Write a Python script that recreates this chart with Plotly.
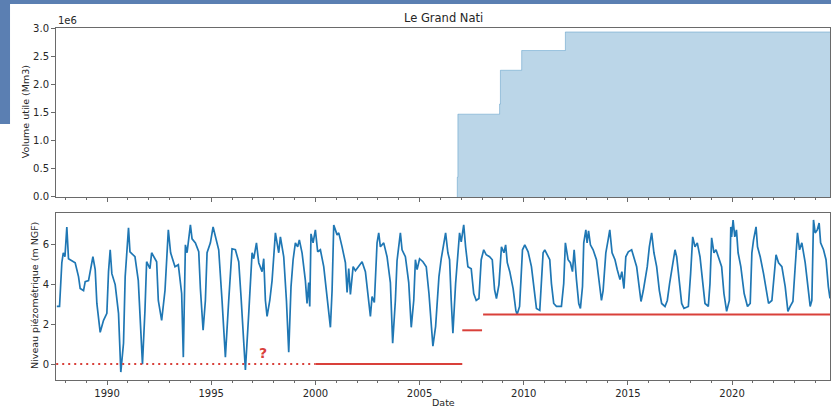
import pandas as pd
import plotly.graph_objects as go

# ---------------- data ----------------
piezo_year = [
    1987.59, 1987.72, 1987.83, 1987.90, 1987.98, 1988.07, 1988.15, 1988.31, 1988.47, 1988.63,
    1988.71, 1988.87, 1988.95, 1989.11, 1989.19, 1989.32, 1989.43, 1989.51, 1989.67, 1989.83,
    1989.99, 1990.07, 1990.15, 1990.23, 1990.39, 1990.55, 1990.66, 1990.79, 1990.87, 1991.03,
    1991.10, 1991.34, 1991.50, 1991.58, 1991.70, 1991.82, 1991.90, 1992.06, 1992.14, 1992.30,
    1992.38, 1992.46, 1992.62, 1992.78, 1992.94, 1993.05, 1993.26, 1993.42, 1993.58, 1993.66,
    1993.76, 1993.84, 1994.00, 1994.08, 1994.24, 1994.40, 1994.48, 1994.61, 1994.72, 1994.80,
    1994.96, 1995.09, 1995.20, 1995.36, 1995.52, 1995.68, 1995.84, 1996.00, 1996.16, 1996.32,
    1996.43, 1996.64, 1996.80, 1996.96, 1997.04, 1997.17, 1997.28, 1997.44, 1997.52, 1997.60,
    1997.68, 1997.81, 1997.92, 1998.08, 1998.24, 1998.32, 1998.48, 1998.61, 1998.72, 1998.83,
    1998.93, 1999.04, 1999.15, 1999.23, 1999.36, 1999.52, 1999.60, 1999.68, 1999.73, 1999.79,
    1999.89, 2000.00, 2000.11, 2000.24, 2000.40, 2000.56, 2000.72, 2000.80, 2000.88, 2001.04,
    2001.12, 2001.28, 2001.44, 2001.52, 2001.60, 2001.68, 2001.81, 2001.92, 2002.08, 2002.24,
    2002.40, 2002.51, 2002.64, 2002.72, 2002.83, 2002.96, 2003.04, 2003.12, 2003.28, 2003.44,
    2003.60, 2003.71, 2003.84, 2003.92, 2004.08, 2004.16, 2004.32, 2004.48, 2004.60, 2004.72,
    2004.80, 2004.88, 2005.00, 2005.16, 2005.32, 2005.45, 2005.56, 2005.64, 2005.77, 2005.93,
    2006.04, 2006.15, 2006.25, 2006.36, 2006.44, 2006.52, 2006.60, 2006.73, 2006.80, 2006.92,
    2007.00, 2007.12, 2007.21, 2007.32, 2007.48, 2007.60, 2007.72, 2007.85, 2007.96, 2008.08,
    2008.20, 2008.36, 2008.49, 2008.60, 2008.69, 2008.81, 2008.93, 2009.05, 2009.13, 2009.21,
    2009.33, 2009.49, 2009.62, 2009.68, 2009.80, 2009.94, 2010.05, 2010.21, 2010.37, 2010.48,
    2010.61, 2010.77, 2010.93, 2011.01, 2011.25, 2011.33, 2011.44, 2011.57, 2011.81, 2011.92,
    2012.00, 2012.13, 2012.24, 2012.34, 2012.42, 2012.53, 2012.64, 2012.72, 2012.82, 2012.88,
    2012.98, 2013.04, 2013.11, 2013.20, 2013.33, 2013.49, 2013.62, 2013.73, 2013.81, 2013.94,
    2014.05, 2014.13, 2014.24, 2014.38, 2014.49, 2014.62, 2014.71, 2014.81, 2014.90, 2015.02,
    2015.18, 2015.29, 2015.42, 2015.54, 2015.63, 2015.74, 2015.82, 2015.93, 2016.03, 2016.14,
    2016.25, 2016.38, 2016.51, 2016.62, 2016.78, 2016.89, 2017.00, 2017.14, 2017.26, 2017.34,
    2017.47, 2017.58, 2017.69, 2017.90, 2018.01, 2018.11, 2018.22, 2018.33, 2018.46, 2018.58,
    2018.70, 2018.86, 2018.94, 2019.02, 2019.13, 2019.23, 2019.34, 2019.50, 2019.61, 2019.74,
    2019.87, 2019.94, 2019.98, 2020.05, 2020.13, 2020.21, 2020.29, 2020.42, 2020.58, 2020.74,
    2020.87, 2020.95, 2021.03, 2021.15, 2021.22, 2021.35, 2021.51, 2021.63, 2021.75, 2021.91,
    2022.02, 2022.11, 2022.23, 2022.39, 2022.55, 2022.68, 2022.79, 2022.92, 2023.03, 2023.14,
    2023.24, 2023.35, 2023.51, 2023.67, 2023.75, 2023.83, 2023.91, 2023.99, 2024.09, 2024.18,
    2024.25, 2024.39, 2024.51, 2024.62, 2024.70,
]
piezo_level = [
    2.9, 2.9, 5.1, 5.6, 5.4, 6.9, 5.3, 5.2, 5.1, 4.4,
    3.8, 3.7, 4.15, 4.2, 4.65, 5.4, 4.75, 3.05, 1.6, 2.2,
    2.55, 4.65, 5.75, 4.55, 4.0, 2.55, -0.4, 1.05, 4.4, 6.85,
    5.65, 5.4, 4.2, 2.7, 0.0, 2.7, 5.15, 4.8, 5.6, 5.3,
    5.15, 3.2, 2.2, 3.7, 6.75, 5.6, 4.9, 5.0, 3.55, 0.35,
    6.0, 5.6, 7.0, 6.3, 6.1, 5.65, 3.8, 1.7, 3.2, 5.6,
    6.1, 6.9, 6.4, 5.75, 3.2, 0.35, 3.2, 5.8, 5.75, 5.15,
    3.4, -0.3, 2.55, 5.6, 5.3, 6.1, 5.1, 4.65, 5.3, 3.2,
    2.4, 3.2, 4.2, 6.6, 5.6, 6.4, 5.4, 3.2, 0.6, 3.9,
    5.25, 6.1, 5.9, 6.25, 5.6, 4.2, 3.05, 4.1, 2.9, 6.55,
    6.1, 6.75, 5.65, 5.75, 4.9, 3.2, 1.85, 3.7, 7.0, 6.5,
    6.6, 5.9, 5.1, 3.6, 4.8, 3.5, 4.9, 4.7, 4.9, 5.15,
    4.65, 3.7, 2.4, 3.4, 3.1, 6.1, 6.6, 5.9, 6.1, 5.4,
    4.1, 1.05, 3.2, 5.2, 6.6, 5.75, 5.4, 4.1, 1.85, 3.2,
    5.25, 4.75, 5.3, 5.15, 4.9, 3.55, 1.9, 0.9, 1.9, 4.4,
    5.3, 6.0, 6.6, 5.6, 5.25, 3.2, 1.55, 4.05, 5.15, 6.6,
    6.15, 7.0, 5.9, 4.9, 4.8, 3.55, 3.2, 3.3, 5.25, 5.75,
    5.5, 5.4, 5.25, 3.75, 3.3, 4.0, 5.9, 5.6, 6.0, 5.1,
    4.65, 3.8, 2.7, 2.5, 2.9, 5.75, 6.0, 5.65, 4.9, 3.9,
    2.8, 2.7, 5.6, 5.75, 5.25, 4.05, 3.05, 2.9, 2.9, 4.05,
    6.1, 5.25, 5.1, 4.65, 5.75, 4.25, 3.05, 2.8, 3.9, 6.1,
    6.75, 6.1, 6.7, 6.0, 5.75, 5.25, 4.05, 3.2, 3.7, 5.6,
    6.25, 6.75, 5.6, 5.25, 4.75, 4.25, 4.65, 3.8, 5.4, 5.65,
    5.75, 5.3, 4.9, 3.9, 3.15, 3.7, 4.25, 4.9, 5.9, 6.6,
    5.6, 4.9, 3.7, 3.05, 2.9, 3.2, 4.05, 5.1, 5.75, 5.4,
    4.25, 3.05, 2.8, 2.9, 4.55, 6.4, 5.9, 6.1, 5.4, 4.25,
    3.05, 2.9, 4.05, 6.35, 5.6, 5.75, 5.4, 4.9, 3.55, 2.65,
    3.2, 6.9, 6.4, 7.25, 6.4, 6.75, 5.6, 4.9, 3.55, 2.9,
    3.05, 5.6, 6.25, 6.9, 5.9, 5.4, 4.55, 3.9, 3.05, 3.2,
    4.55, 5.5, 5.1, 4.9, 3.9, 2.65, 2.9, 3.15, 4.9, 6.6,
    5.75, 6.1, 5.1, 3.55, 2.9, 3.2, 7.25, 6.6, 6.75, 7.1,
    6.1, 5.75, 5.25, 3.9, 3.3,
]

volume_year = [2006.80, 2006.81, 2006.84, 2008.84, 2008.88, 2009.90, 2012.00, 2024.70]
volume_m3 = [0.0, 0.35e6, 1.47e6, 1.65e6, 2.25e6, 2.60e6, 2.93e6, 2.93e6]

# threshold segments (start year, end year, level, dotted?)
seg_start = [1987.56, 2000.0, 2007.05, 2008.05]
seg_end = [2000.0, 2007.05, 2008.0, 2024.70]
seg_level = [0.0, 0.0, 1.7, 2.5]
seg_dotted = [True, False, False, False]

x_range_years = [1987.55, 2024.70]
major_tick_years = [1990, 1995, 2000, 2005, 2010, 2015, 2020]
vol_ticks = [0.0, 0.5e6, 1.0e6, 1.5e6, 2.0e6, 2.5e6, 3.0e6]
level_ticks = [0, 2, 4, 6]

title = "Le Grand Nati"
ylabel_top = "Volume utile (Mm3)"
ylabel_bottom = "Niveau piézométrique (m NGF)"
xlabel = "Date"


def dec2date(y):
    yr = int(y)
    start = pd.Timestamp(yr, 1, 1)
    end = pd.Timestamp(yr + 1, 1, 1)
    return start + (end - start) * (y - yr)


piezo_dates = [dec2date(v) for v in piezo_year]
volume_dates = [dec2date(v) for v in volume_year]
xr = [dec2date(v) for v in x_range_years]

BLUE = "#1f77b4"
RED = "#d9403a"
FRAME = "#6a6a6a"
TXT = "#262626"
FONT = "DejaVu Sans"

fig = go.Figure()

fig.add_trace(go.Scatter(
    x=volume_dates, y=volume_m3, mode="lines", line_shape="hv",
    line=dict(color="rgba(31,119,180,0.35)", width=1),
    fill="tozeroy", fillcolor="rgba(31,119,180,0.3)",
    xaxis="x", yaxis="y", showlegend=False, hoverinfo="skip"))

fig.add_trace(go.Scatter(
    x=piezo_dates, y=piezo_level, mode="lines",
    line=dict(color=BLUE, width=1.7),
    xaxis="x2", yaxis="y2", showlegend=False))

for s, e, lv, dotted in zip(seg_start, seg_end, seg_level, seg_dotted):
    fig.add_trace(go.Scatter(
        x=[dec2date(s), dec2date(e)], y=[lv, lv], mode="lines",
        line=dict(color=RED, width=2, dash="2px,4px" if dotted else "solid"),
        xaxis="x2", yaxis="y2", showlegend=False, hoverinfo="skip"))

axis_common = dict(
    showline=True, linecolor=FRAME, linewidth=1, mirror=True,
    ticks="outside", ticklen=4, tickcolor=FRAME, tickwidth=1,
    showgrid=False, zeroline=False, automargin=False,
    tickfont=dict(family=FONT, size=10, color=TXT),
)
xcommon = dict(
    type="date", range=xr, tickmode="array",
    tickvals=[dec2date(y) for y in major_tick_years],
    ticktext=[str(y) for y in major_tick_years],
    minor=dict(ticks="outside", ticklen=2, tickcolor=FRAME, dtick="M12",
               tick0="1988-01-01", showgrid=False),
)

fig.update_layout(
    width=831, height=407,
    margin=dict(l=56, r=1, t=28, b=27, autoexpand=False),
    paper_bgcolor="white", plot_bgcolor="white",
    font=dict(family=FONT, size=10, color=TXT),
    xaxis=dict(domain=[0, 1], anchor="y", showticklabels=False, **xcommon, **axis_common),
    yaxis=dict(domain=[0.52, 1.0], anchor="x", range=[0, 3.0e6],
               tickvals=vol_ticks, ticktext=[f"{v/1e6:.1f}" for v in vol_ticks],
               **axis_common),
    xaxis2=dict(domain=[0, 1], anchor="y2", matches="x", **xcommon, **axis_common),
    yaxis2=dict(domain=[0, 0.4744], anchor="x2", range=[-0.8, 7.6],
                tickvals=level_ticks, **axis_common),
)

ann_font = dict(family=FONT, size=9.5, color=TXT)
fig.add_annotation(text=title, xref="paper", yref="paper", x=0.5, y=1.028,
                   xanchor="center", yanchor="middle", showarrow=False,
                   font=dict(family=FONT, size=11.5, color=TXT))
fig.add_annotation(text=ylabel_top, xref="paper", yref="paper", x=-0.040, y=0.761,
                   xanchor="center", yanchor="middle", textangle=-90, showarrow=False,
                   font=ann_font)
fig.add_annotation(text=ylabel_bottom, xref="paper", yref="paper", x=-0.027, y=0.239,
                   xanchor="center", yanchor="middle", textangle=-90, showarrow=False,
                   font=ann_font)
fig.add_annotation(text=xlabel, xref="paper", yref="paper", x=0.5, y=-0.064,
                   xanchor="center", yanchor="middle", showarrow=False, font=ann_font)
fig.add_annotation(text="1e6", xref="paper", yref="paper", x=0.0, y=1.0,
                   xanchor="left", yanchor="bottom", showarrow=False,
                   font=dict(family=FONT, size=10, color=TXT))
fig.add_annotation(text="<b>?</b>", xref="x2", yref="y2", x=dec2date(1997.5), y=0.55,
                   showarrow=False, font=dict(family=FONT, size=14, color=RED))

# screenshot frame (blue border at top / left)
FR = "#5b7fb2"
fig.add_shape(type="rect", xref="paper", yref="paper", x0=-0.08, x1=1.01,
              y0=1.068, y1=1.09, fillcolor=FR, line_width=0, layer="above")
fig.add_shape(type="rect", xref="paper", yref="paper", x0=-0.08, x1=-0.0594,
              y0=0.727, y1=1.09, fillcolor=FR, line_width=0, layer="above")

fig.write_html("out.html", config={"displayModeBar": False},
               post_script="document.body.style.margin='0';document.body.style.overflow='hidden';")
